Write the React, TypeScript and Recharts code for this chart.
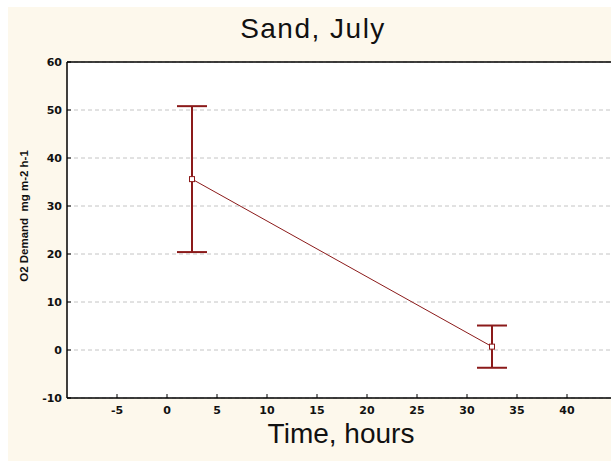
import React from 'react';
import { LineChart, Line, XAxis, YAxis, CartesianGrid, ErrorBar, Label } from 'recharts';

// sampling times (hours) and measured O2 demand with error half-widths
const timeHours = [2.5, 32.5];
const demandMean = [35.6, 0.7];
const demandErr = [15.2, 4.4];

const xTicks = [-5, 0, 5, 10, 15, 20, 25, 30, 35, 40];
const yTicks = [-10, 0, 10, 20, 30, 40, 50, 60];
const xDomain = [-10, 44.4];

const data = timeHours.map((t, i) => ({ time: t, demand: demandMean[i], err: demandErr[i] }));

const RED = '#8b1a1a';
const FONT = '"Liberation Sans", Arial, sans-serif';

const SquareDot = (props: any) => {
  const { cx, cy } = props;
  if (cx == null || cy == null) return null;
  return <rect x={cx - 2.5} y={cy - 2.5} width={5} height={5} fill="#fff" stroke={RED} strokeWidth={1} />;
};

const renderTitle = () => (
  <text x={313} y={38} textAnchor="middle" fontFamily={FONT} fontSize={28} letterSpacing={1.5} fill="#111">
    Sand, July
  </text>
);

const renderXTitle = () => (
  <text x={341} y={443} textAnchor="middle" fontFamily={FONT} fontSize={28} fill="#111">
    Time, hours
  </text>
);

const renderYTitle = () => (
  <text
    x={24}
    y={216}
    transform="rotate(-90 24 216)"
    textAnchor="middle"
    dominantBaseline="central"
    fontFamily={FONT}
    fontSize={11.5}
    fontWeight="bold"
    fill="#111"
    style={{ whiteSpace: 'pre' }}
  >
    O2 Demand  mg m-2 h-1
  </text>
);

const tickStyle = { fontFamily: '"DejaVu Sans", sans-serif', fontSize: 11, fontWeight: 'bold', fill: '#111' };

export default function App() {
  return (
    <div style={{ position: 'fixed', left: 0, top: 0, width: 611, height: 461, background: '#fff', overflow: 'hidden' }}>
      <div style={{ position: 'absolute', left: 8, top: 7, width: 603, height: 454, background: '#fdf8ec' }} />
      <div style={{ position: 'absolute', left: 0, top: 0 }}>
        <LineChart width={611} height={461} data={data} margin={{ top: 61, right: 0, bottom: 0, left: 0 }}>
          <CartesianGrid vertical={false} stroke="#c4c4c4" strokeDasharray="4 3" fill="#fff" />
          {/* top frame edge, no labels */}
          <XAxis
            xAxisId="top"
            orientation="top"
            type="number"
            dataKey="time"
            domain={xDomain}
            ticks={xTicks}
            allowDataOverflow
            height={1}
            tick={false}
            tickSize={-4}
            stroke="#000"
            axisLine={{ stroke: '#000', strokeWidth: 1.5 }}
          >
            <Label content={renderTitle} />
          </XAxis>
          <XAxis
            type="number"
            dataKey="time"
            domain={xDomain}
            ticks={xTicks}
            allowDataOverflow
            height={63}
            tickSize={-4}
            tickMargin={12}
            tick={tickStyle}
            stroke="#000"
            axisLine={{ stroke: '#000', strokeWidth: 1.5 }}
          >
            <Label content={renderXTitle} />
          </XAxis>
          <YAxis
            type="number"
            domain={[-10, 60]}
            ticks={yTicks}
            width={67}
            tickSize={-4}
            tickMargin={9}
            tick={tickStyle}
            stroke="#000"
            axisLine={{ stroke: '#000', strokeWidth: 1.5 }}
          >
            <Label content={renderYTitle} />
          </YAxis>
          <Line
            type="linear"
            dataKey="demand"
            stroke={RED}
            strokeWidth={1}
            dot={<SquareDot />}
            activeDot={false}
            isAnimationActive={false}
          >
            <ErrorBar dataKey="err" direction="y" width={15} stroke={RED} strokeWidth={2} isAnimationActive={false} />
          </Line>
        </LineChart>
      </div>
    </div>
  );
}
